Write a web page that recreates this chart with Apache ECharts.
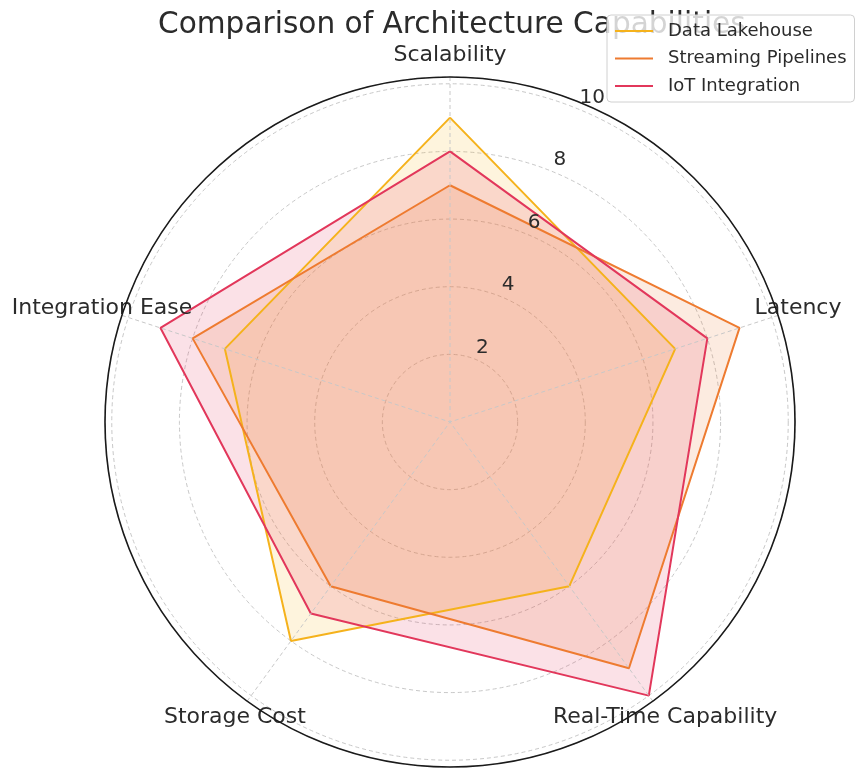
<!DOCTYPE html>
<html>
<head>
<meta charset="utf-8">
<script src="https://cdn.jsdelivr.net/npm/echarts@6/dist/echarts.min.js"></script>
<style>
  html, body { margin: 0; padding: 0; background: #fff; }
  #chart { width: 857px; height: 768px; }
</style>
</head>
<body>
<div id="chart"></div>
<script>
// capability axes, clockwise from the top
const axes = ['Scalability', 'Latency', 'Real-Time Capability', 'Storage Cost', 'Integration Ease'];

// scores (0-10)
const dataLakehouse = [9, 7, 6, 8, 7];
const streamingPipelines = [7, 9, 9, 6, 8];
const iotIntegration = [8, 8, 10, 7, 9];

const radialTicks = [2, 4, 6, 8, 10];

const textColor = '#2b2b2b';
const fontFamily = 'DejaVu Sans';

// angle axis is a value axis 0..n so the last point can wrap back to the first
// (a category angle axis only spans 288 deg and clips the closing edge)
const ring = (vals) => vals.map((v, i) => [v, i]).concat([[vals[0], vals.length]]);

const makeSeries = (name, vals, color) => ({
  name: name,
  type: 'line',
  coordinateSystem: 'polar',
  polarIndex: 0,
  data: ring(vals),
  symbol: 'none',
  color: color,
  lineStyle: { color: color, width: 2 },
  itemStyle: { color: color },
  areaStyle: { color: color, opacity: 0.15 }
});

// angle labels: echarts picks left/right/top/bottom anchoring by direction,
// so each label gets a fixed-size box that puts its text centred on the spoke
const labelBox = [
  { width: 0, lineHeight: 60 },   // top
  { width: 55, lineHeight: 20 },  // right
  { width: 34, lineHeight: 45 },  // lower right
  { width: 34, lineHeight: 45 },  // lower left
  { width: 55, lineHeight: 20 }   // left
];
const angleRich = {};
labelBox.forEach((b, i) => {
  angleRich['k' + i] = {
    width: b.width || undefined,
    lineHeight: b.lineHeight,
    align: 'center',
    fontSize: 22,
    fontFamily: fontFamily,
    color: textColor
  };
});

const chart = echarts.init(document.getElementById('chart'));

chart.setOption({
  backgroundColor: '#fff',
  animation: false,
  textStyle: { fontFamily: fontFamily },
  title: {
    text: 'Comparison of Architecture Capabilities',
    left: 153,
    top: 5,
    textStyle: { fontSize: 29.6, fontWeight: 'normal', color: textColor, fontFamily: fontFamily }
  },
  legend: {
    data: ['Data Lakehouse', 'Streaming Pipelines', 'IoT Integration'],
    orient: 'vertical',
    left: 607,
    top: 15,
    z: 10,
    padding: [7, 8, 7, 8],
    itemGap: 9.5,
    itemWidth: 38,
    itemHeight: 2,
    icon: 'rect',
    backgroundColor: 'rgba(255,255,255,0.8)',
    borderColor: '#d0d0d0',
    borderWidth: 1,
    borderRadius: 4,
    textStyle: { fontSize: 18, lineHeight: 18, color: textColor, fontFamily: fontFamily, padding: [0, 0, 0, 10] }
  },
  polar: [
    { center: [450, 422], radius: 345 },
    { center: [450, 422], radius: 345 }
  ],
  angleAxis: [
    {
      polarIndex: 0,
      type: 'value',
      min: 0,
      max: axes.length,
      interval: 1,
      startAngle: 90,
      clockwise: true,
      axisLine: { show: true, lineStyle: { color: '#1a1a1a', width: 1.6 } },
      axisTick: { show: false },
      axisLabel: {
        show: true,
        margin: -8,
        fontSize: 22,
        color: textColor,
        fontFamily: fontFamily,
        formatter: (v) => (v < axes.length ? '{k' + v + '|' + axes[v] + '}' : ''),
        rich: angleRich
      },
      splitLine: { show: true, lineStyle: { color: '#c8c8c8', width: 1, type: [4, 3] } },
      z: 5
    },
    {
      polarIndex: 1,
      type: 'value',
      min: 0,
      max: 360,
      startAngle: 67.5,
      axisLine: { show: false },
      axisTick: { show: false },
      axisLabel: { show: false },
      splitLine: { show: false }
    }
  ],
  radiusAxis: [
    {
      polarIndex: 0,
      type: 'value',
      min: 0,
      max: 10.2,
      interval: 2,
      axisLine: { show: false },
      axisTick: { show: false },
      axisLabel: { show: false },
      splitLine: { show: true, lineStyle: { color: '#c8c8c8', width: 1, type: [4, 3] } }
    },
    {
      polarIndex: 1,
      type: 'value',
      min: 0,
      max: 10.2,
      interval: 2,
      z: 10,
      axisLine: { show: false },
      axisTick: { show: false },
      splitLine: { show: false },
      axisLabel: {
        show: true,
        margin: 0,
        align: 'left',
        verticalAlign: 'bottom',
        padding: [0, 0, 2, 0],
        fontSize: 20,
        color: textColor,
        fontFamily: fontFamily,
        formatter: (v) => (radialTicks.indexOf(v) >= 0 ? String(v) : '')
      }
    }
  ],
  series: [
    makeSeries('Data Lakehouse', dataLakehouse, '#F5B21C'),
    makeSeries('Streaming Pipelines', streamingPipelines, '#EE7B30'),
    makeSeries('IoT Integration', iotIntegration, '#E2375B')
  ]
});
</script>
</body>
</html>
